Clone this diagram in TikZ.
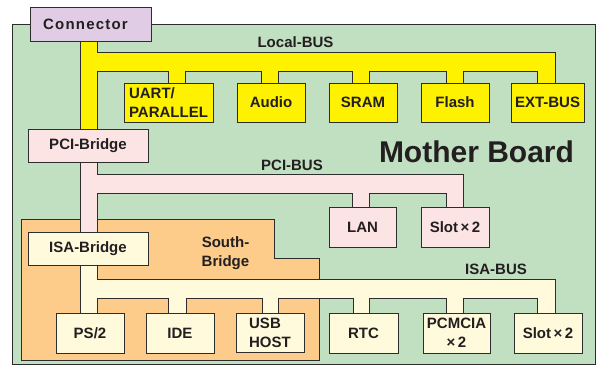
\documentclass[tikz,border=0pt]{standalone}
\usepackage{fontspec}
\setmainfont{Liberation Sans}
\definecolor{board}{RGB}{193,224,193}
\definecolor{ybus}{RGB}{255,242,0}
\definecolor{pbus}{RGB}{252,228,228}
\definecolor{cbus}{RGB}{255,250,220}
\definecolor{sbr}{RGB}{253,203,138}
\definecolor{lav}{RGB}{224,204,228}
\definecolor{lc}{RGB}{45,45,45}
\definecolor{tc}{RGB}{35,31,32}
\begin{document}
\begin{tikzpicture}[x=1pt,y=-1pt,
  outl/.style={draw=lc, line width=1pt, line join=miter},
  box/.style={outl, inner sep=0pt, text=tc, font=\fontsize{15}{19}\selectfont\bfseries, align=center},
  lbl/.style={text=tc, inner sep=0pt, font=\fontsize{15}{19}\selectfont\bfseries, align=center},
  bw/.style={minimum width=#1pt},
  bh/.style={minimum height=#1pt}]
\useasboundingbox (0,0) rectangle (597,365);
% board
\path[outl, fill=board] (12,24) rectangle (595,364);
% south bridge region
\path[outl, fill=sbr] (21,219) -- (274,219) -- (274,258) -- (319,258) -- (319,360) -- (21,360) -- cycle;
% local bus
\path[outl, fill=ybus] (80,41) -- (97,41) -- (97,52) -- (555,52) -- (555,84) -- (537,84) -- (537,71)
  -- (463,71) -- (463,84) -- (446,84) -- (446,71) -- (369,71) -- (369,84) -- (352,84) -- (352,71)
  -- (278,71) -- (278,84) -- (261,84) -- (261,71) -- (185,71) -- (185,84) -- (168,84) -- (168,71)
  -- (97,71) -- (97,130) -- (80,130) -- cycle;
% PCI bus
\path[outl, fill=pbus] (80,161) -- (97,161) -- (97,174) -- (463,174) -- (463,208) -- (446,208) -- (446,193)
  -- (369,193) -- (369,208) -- (352,208) -- (352,193) -- (97,193) -- (97,233) -- (80,233) -- cycle;
% ISA bus
\path[outl, fill=cbus] (80,264) -- (97,264) -- (97,279) -- (555,279) -- (555,314) -- (537,314) -- (537,298)
  -- (463,298) -- (463,314) -- (446,314) -- (446,298) -- (369,298) -- (369,314) -- (353,314) -- (353,298)
  -- (278,298) -- (278,314) -- (262,314) -- (262,298) -- (186,298) -- (186,314) -- (168,314) -- (168,298)
  -- (97,298) -- (97,314) -- (80,314) -- cycle;
% nodes
\node[box, fill=lav, bw=121, bh=34] (conn) at (90.5,24) {\addfontfeature{LetterSpace=8}Connector\hspace*{10pt}};
\node[box, fill=pbus, bw=120, bh=33] (pcib) at (88,145.5) {PCI-Bridge};
\node[box, fill=cbus, bw=120, bh=33] (isab) at (88,248.5) {ISA-Bridge};
\node[box, fill=ybus, bw=89, bh=39, align=left] (uart) at (168.5,102.5) {UART/\\PARALLEL};
\node[box, fill=ybus, bw=68, bh=39] (audio) at (271,102.5) {Audio};
\node[box, fill=ybus, bw=68, bh=39] (sram) at (363,102.5) {SRAM};
\node[box, fill=ybus, bw=68, bh=39] (flash) at (455,102.5) {Flash};
\node[box, fill=ybus, bw=73, bh=39] (ext) at (547.5,102.5) {EXT-BUS};
\node[box, fill=pbus, bw=67, bh=40] (lan) at (362.5,227) {LAN};
\node[box, fill=pbus, bw=68, bh=40] (slotp) at (455,227) {Slot\,×\,2};
\node[box, fill=cbus, bw=68, bh=40] (ps2) at (90,333) {PS/2};
\node[box, fill=cbus, bw=68, bh=40] (ide) at (180,333) {IDE};
\node[box, fill=cbus, bw=68, bh=39, align=left] (usb) at (270,332.5) {USB\\HOST};
\node[box, fill=cbus, bw=69, bh=40] (rtc) at (363.5,333) {RTC};
\node[box, fill=cbus, bw=67, bh=40] (pcmcia) at (456.5,333) {PCMCIA\\×\,2};
\node[box, fill=cbus, bw=68, bh=40] (sloti) at (548,333) {Slot\,×\,2};
% labels
\node[lbl, anchor=base] (lbus) at (295.5,47) {Local-BUS};
\node[lbl, anchor=base] (pbusl) at (292,170) {PCI-BUS};
\node[lbl, anchor=base] (ibusl) at (496,274) {ISA-BUS};
\node[lbl, anchor=base] (south) at (225.5,266) {South-\\Bridge};
\node[lbl, anchor=base, font=\fontsize{30}{36}\selectfont\bfseries] (mb) at (476.5,162) {Mother Board};
\end{tikzpicture}
\end{document}
